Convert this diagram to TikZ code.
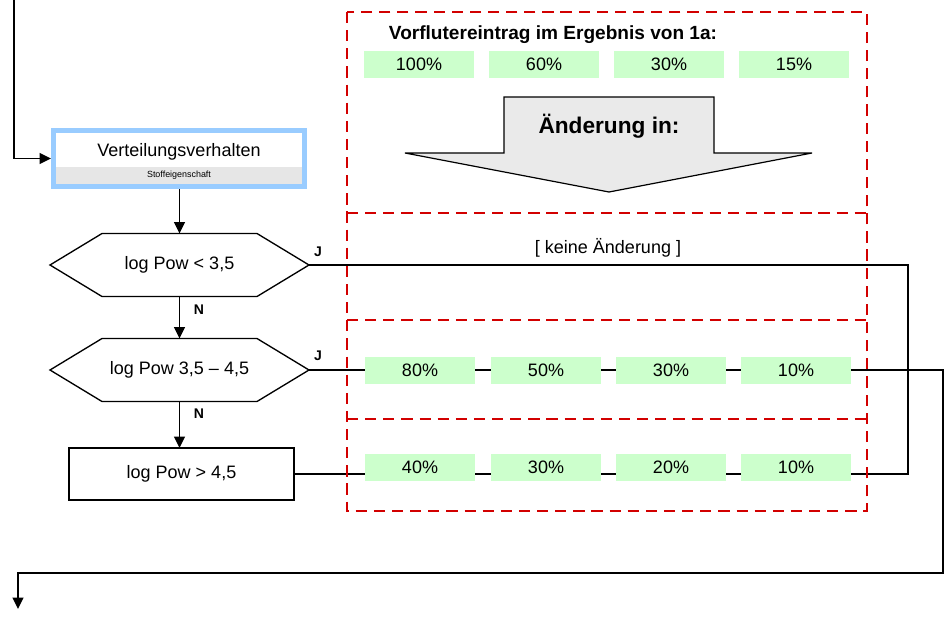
\documentclass[tikz,border=0pt]{standalone}
\usepackage{fontspec}
\setmainfont{Liberation Sans}
\usetikzlibrary{arrows.meta}
\definecolor{frame}{RGB}{210,0,0}
\definecolor{mint}{RGB}{204,255,204}
\definecolor{skyblue}{RGB}{153,204,255}
\definecolor{strip}{RGB}{230,230,230}
\definecolor{arrowfill}{RGB}{234,234,234}

\begin{document}
\begin{tikzpicture}[x=0.75pt,y=-0.75pt,
  txt/.style={font=\fontsize{13.5}{16}\selectfont, inner sep=0pt},
  boldtxt/.style={font=\fontsize{14.3}{16}\selectfont\bfseries, inner sep=0pt},
  yn/.style={font=\fontsize{10.5}{12}\selectfont\bfseries, inner sep=0pt},
  conn/.style={line width=1.35pt},
  tip/.style={-{Triangle[length=8.5pt,width=8pt]}},
  outline/.style={draw, line width=1pt},
  hexbox/.style={txt, minimum width=259*0.75pt, minimum height=63*0.75pt, outer sep=0pt},
  gbox/.style={txt, fill=mint, minimum width=110*0.75pt, minimum height=27*0.75pt},
  redframe/.style={draw=frame, line width=2.2pt, dash pattern=on 8.4pt off 5.2pt}
]
\useasboundingbox (0,0) rectangle (945,621);

% --- left column: flow chart ---
\node[draw=skyblue, line width=3.75pt, minimum width=251*0.75pt,
      minimum height=56*0.75pt, inner sep=0pt, outer sep=1.875pt] (vb) at (179,158.5) {};
\fill[strip] ([shift={(5,-5)}]vb.south west) rectangle ([shift={(-5,-22)}]vb.south east);
\node[txt] (vbt) at (179,152) {Verteilungsverhalten};
\node[font=\fontsize{6.7}{8}\selectfont, inner sep=0pt] (vbs) at (179,175.5) {Stoffeigenschaft};

\node[hexbox] (h1) at (179.5,265) {log Pow < 3,5};
\node[hexbox] (h2) at (179.5,370) {log Pow 3,5 – 4,5};
\foreach \h in {h1,h2}{
  \draw[outline] (\h.west) -- ([xshift=39pt]\h.north west) -- ([xshift=-39pt]\h.north east)
     -- (\h.east) -- ([xshift=-39pt]\h.south east) -- ([xshift=39pt]\h.south west) -- cycle;
}
\node[txt, outline, minimum width=225*0.75pt, minimum height=52*0.75pt, outer sep=0pt] (b3) at (181.5,474) {log Pow > 4,5};

% vertical flow
\coordinate (in) at (14,0);
\draw[conn,tip] (in) |- (vb.west);
\draw[conn,tip] (vb.south -| h1.north) -- (h1.north);
\draw[conn,tip] (h1.south) -- (h2.north);
\draw[conn,tip] (h2.south) -- (b3.north -| h2.south);

\node[yn] (n1) at (199,310) {N};
\node[yn] (n2) at (199,414) {N};
\node[yn] (j1) at (318,252) {J};
\node[yn] (j2) at (318,356) {J};

% --- right block ---
\node[boldtxt] (title) at (553,35) {Vorflutereintrag im Ergebnis von 1a:};
\node[gbox] (t1) at (419,64.5) {100\%};
\node[gbox] (t2) at (544,64.5) {60\%};
\node[gbox] (t3) at (669,64.5) {30\%};
\node[gbox] (t4) at (794,64.5) {15\%};

\draw[fill=arrowfill, line width=0.9pt] (504,97) -- (714,97) -- (714,153) -- (812,153)
  -- (609,192) -- (405,153) -- (504,153) -- cycle;
\node[font=\fontsize{17}{20}\selectfont\bfseries, inner sep=0pt] (chg) at (609,126) {Änderung in:};

\node[txt] (keine) at (608,248) {[ keine Änderung ]};

\node[gbox] (g81) at (420,370.5) {80\%};
\node[gbox] (g82) at (546,370.5) {50\%};
\node[gbox] (g83) at (671,370.5) {30\%};
\node[gbox] (g84) at (796,370.5) {10\%};

\node[gbox] (g41) at (420,467.5) {40\%};
\node[gbox] (g42) at (546,467.5) {30\%};
\node[gbox] (g43) at (671,467.5) {20\%};
\node[gbox] (g44) at (796,467.5) {10\%};

% connectors of the three branches
\coordinate (rj) at (908,265);
\draw[conn] (h1.east) -- (rj) |- (g44.east |- b3.east);

\draw[conn] (h2.east) -- (h2.east -| g81.west);
\draw[conn] (g81.east |- h2.east) -- (g82.west |- h2.east);
\draw[conn] (g82.east |- h2.east) -- (g83.west |- h2.east);
\draw[conn] (g83.east |- h2.east) -- (g84.west |- h2.east);

\draw[conn] (b3.east) -- (b3.east -| g41.west);
\draw[conn] (g41.east |- b3.east) -- (g42.west |- b3.east);
\draw[conn] (g42.east |- b3.east) -- (g43.west |- b3.east);
\draw[conn] (g43.east |- b3.east) -- (g44.west |- b3.east);

\coordinate (q1) at (943,573);
\coordinate (q2) at (18,573);
\coordinate (out) at (18,609);
\draw[conn,tip] (g84.east |- h2.east) -| (q1) -- (q2) -- (out);

% dashed frames
\draw[redframe] (347,12) rectangle (867,511);
\draw[redframe] (347,213) -- (867,213);
\draw[redframe] (347,320) -- (867,320);
\draw[redframe] (347,419) -- (867,419);
\end{tikzpicture}
\end{document}
